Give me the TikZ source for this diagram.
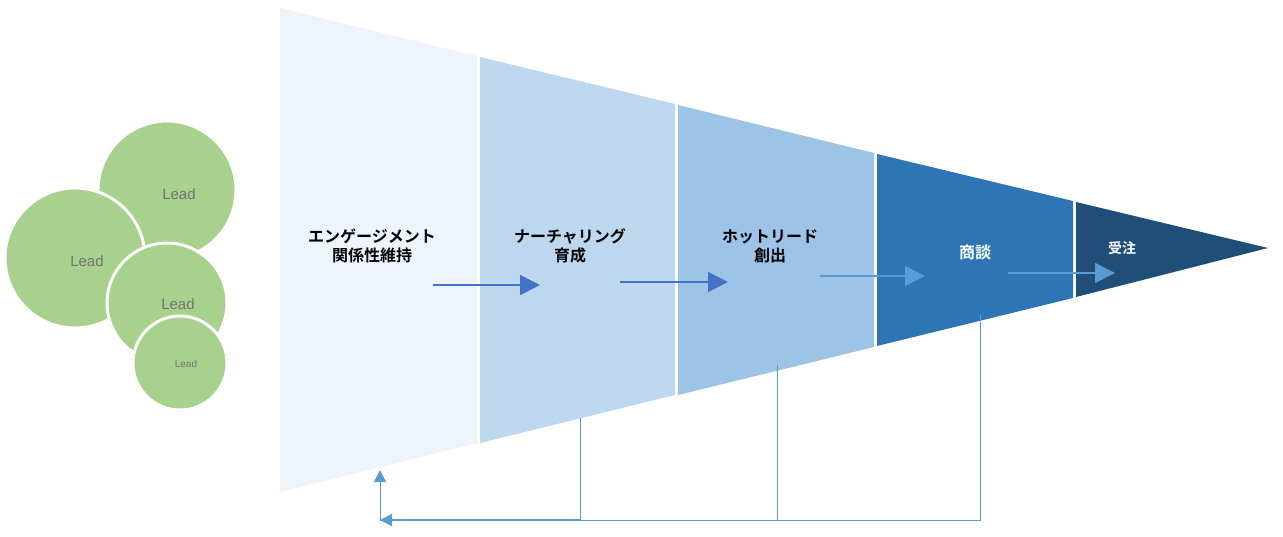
\documentclass[tikz,border=0pt]{standalone}
\usepackage{fontspec}
\setmainfont{Liberation Sans}
\newfontfamily\jpfont{Noto Sans CJK JP}[BoldFont={Noto Sans CJK JP Bold}]
\usetikzlibrary{positioning, arrows.meta}
\definecolor{segA}{HTML}{EDF4FB}
\definecolor{segB}{HTML}{BDD7EE}
\definecolor{segC}{HTML}{9DC3E6}
\definecolor{segD}{HTML}{2E75B6}
\definecolor{segE}{HTML}{1F4E79}
\definecolor{leadgreen}{HTML}{A9D18E}
\definecolor{flow}{HTML}{4472C4}
\definecolor{back}{HTML}{5B9BD5}
\tikzset{
  lead/.style={circle, fill=leadgreen, draw=white, line width=3pt, text=gray!90!black},
  stage/.style={font=\jpfont\bfseries\fontsize{16}{19}\selectfont, align=center},
  flowarrow/.style={draw=flow, line width=1.5pt, -{Triangle[length=20pt, width=20pt]}},
  backline/.style={draw=back, line width=1pt},
}
\begin{document}
\begin{tikzpicture}[x=1pt, y=-1pt]
  \useasboundingbox (0,0) rectangle (1283,536);
  % funnel segments
  \fill[segA] (280,8) -- (477,56) -- (477,443) -- (280,492) -- cycle;
  \fill[segB] (480,57) -- (675,104) -- (675,395) -- (480,443) -- cycle;
  \fill[segC] (678,105) -- (874,153) -- (874,347) -- (678,395) -- cycle;
  \fill[segD] (877,154) -- (1073,201) -- (1073,298) -- (877,346) -- cycle;
  \fill[segE] (1076,202) -- (1268,248) -- (1076,297) -- cycle;
  % leads
  \node[lead, minimum size=138pt] (L1) at (167,190) {};
  \node[lead, minimum size=140pt] (L2) at (75,258) {};
  \node[lead, minimum size=120pt] (L3) at (167,303) {};
  \node[lead, minimum size=94pt] (L4) at (180,363) {};
  \node[text=gray!90!black, font=\fontsize{15}{18}\selectfont] at (179,194) {Lead};
  \node[text=gray!90!black, font=\fontsize{15}{18}\selectfont] at (87,261) {Lead};
  \node[text=gray!90!black, font=\fontsize{15}{18}\selectfont] at (178,304) {Lead};
  \node[text=gray!90!black, font=\fontsize{10}{12}\selectfont] at (186,364) {Lead};
  % stage labels
  \node[stage] (S1) at (372,246) {エンゲージメント\\関係性維持};
  \node[stage] (S2) at (570,246) {ナーチャリング\\育成};
  \node[stage] (S3) at (770,246) {ホットリード\\創出};
  \node[stage, text=white] (S4) at (975,252) {商談};
  \node[stage, text=white, font=\jpfont\bfseries\fontsize{14}{17}\selectfont] (S5) at (1122,248) {受注};
  % forward arrows
  \coordinate (f1a) at (433,285); \coordinate (f1b) at (540,285);
  \coordinate (f2a) at (620,282); \coordinate (f2b) at (728,282);
  \coordinate (f3a) at (820,276); \coordinate (f3b) at (925,276);
  \coordinate (f4a) at (1008,273); \coordinate (f4b) at (1115,273);
  \draw[flowarrow] (f1a) -- (f1b);
  \draw[flowarrow] (f2a) -- (f2b);
  \draw[flowarrow, draw=back] (f3a) -- (f3b);
  \draw[flowarrow, draw=back] (f4a) -- (f4b);
  % feedback lines
  \coordinate (b1) at (580,418); \coordinate (b2) at (777,365); \coordinate (b3) at (980,315);
  \coordinate (c0) at (380,520); \coordinate (c1) at (380,470);
  \draw[backline] (b1) -- (580,520);
  \draw[backline] (b2) -- (777,520);
  \draw[backline] (b3) -- (980,520) -- (c0);
  \draw[backline, line width=2pt, -{Triangle[length=12pt, width=12pt]}] (580,520) -- (c0);
  \draw[backline, draw=back!70, -{Triangle[length=12pt, width=12pt]}, draw=back] (c0) -- (c1);
\end{tikzpicture}
\end{document}
